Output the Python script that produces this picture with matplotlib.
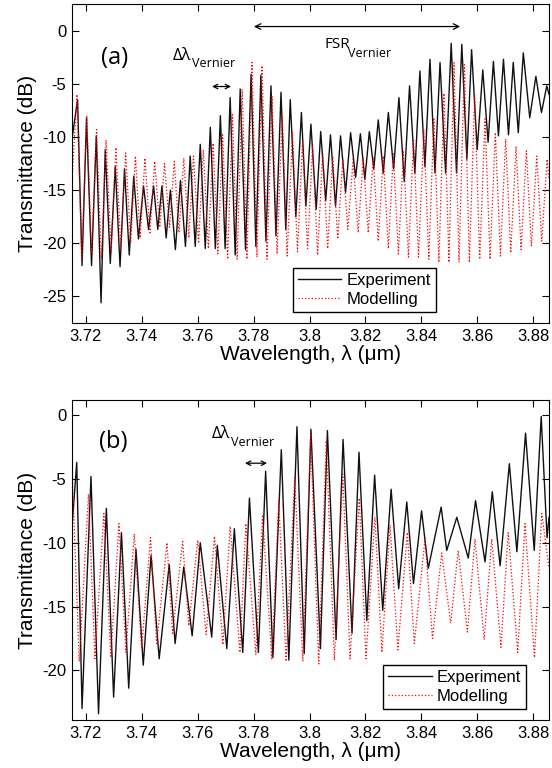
import matplotlib
matplotlib.use("Agg")
import matplotlib.pyplot as plt
from matplotlib.ticker import FormatStrFormatter

plt.rcParams['font.family'] = ['Liberation Sans', 'DejaVu Sans']
plt.rcParams['axes.unicode_minus'] = False

# ---- panel (a): experiment, alternating peak / trough points
wl_exp_a = [3.7150, 3.7170, 3.7186, 3.7202, 3.7220, 3.7237, 3.7254, 3.7269, 3.7287, 3.7305,
            3.7322, 3.7338, 3.7355, 3.7371, 3.7388, 3.7406, 3.7424, 3.7442, 3.7457, 3.7472,
            3.7487, 3.7502, 3.7520, 3.7538, 3.7556, 3.7573, 3.7591, 3.7609, 3.7627, 3.7645,
            3.7663, 3.7681, 3.7698, 3.7716, 3.7734, 3.7752, 3.7771, 3.7791, 3.7808, 3.7826,
            3.7844, 3.7862, 3.7880, 3.7898, 3.7915, 3.7931, 3.7951, 3.7971, 3.7987, 3.8005,
            3.8024, 3.8040, 3.8058, 3.8075, 3.8093, 3.8111, 3.8129, 3.8147, 3.8165, 3.8182,
            3.8198, 3.8214, 3.8230, 3.8246, 3.8264, 3.8282, 3.8301, 3.8320, 3.8339, 3.8358,
            3.8377, 3.8395, 3.8413, 3.8431, 3.8449, 3.8467, 3.8487, 3.8507, 3.8526, 3.8545,
            3.8563, 3.8580, 3.8600, 3.8620, 3.8639, 3.8658, 3.8676, 3.8694, 3.8712, 3.8729,
            3.8747, 3.8765, 3.8788, 3.8810, 3.8830, 3.8849, 3.8857]
T_exp_a = [-10.2, -6.5, -22.1, -8.2, -22.1, -9.9, -25.6, -11.2, -21.9, -12.8,
           -22.2, -13.0, -21.1, -13.7, -19.6, -14.6, -18.7, -14.6, -18.7, -14.6,
           -19.5, -15.0, -20.6, -14.1, -20.3, -11.8, -20.3, -10.7, -20.5, -9.1,
           -20.5, -8.0, -20.5, -6.3, -21.1, -5.5, -20.6, -4.1, -20.3, -4.2,
           -19.8, -5.2, -19.3, -5.8, -18.7, -6.5, -17.5, -7.7, -16.5, -8.8,
           -16.8, -9.5, -16.0, -9.8, -16.5, -9.9, -15.2, -9.6, -13.8, -9.7,
           -14.0, -9.5, -13.0, -8.4, -13.4, -7.7, -13.0, -6.3, -14.2, -5.2,
           -13.4, -3.8, -12.8, -2.7, -13.4, -3.0, -13.4, -1.2, -13.4, -1.3,
           -12.1, -1.8, -11.2, -3.7, -10.5, -2.9, -9.9, -2.7, -9.8, -3.0,
           -9.6, -2.1, -8.2, -4.3, -7.7, -5.2, -6.0]

# ---- panel (a): modelling
wl_mod_a = [3.7150, 3.7168, 3.7185, 3.7203, 3.7220, 3.7238, 3.7255, 3.7272, 3.7290, 3.7307,
            3.7325, 3.7342, 3.7360, 3.7377, 3.7394, 3.7411, 3.7429, 3.7446, 3.7464, 3.7481,
            3.7499, 3.7516, 3.7533, 3.7550, 3.7568, 3.7585, 3.7603, 3.7620, 3.7638, 3.7655,
            3.7672, 3.7689, 3.7707, 3.7724, 3.7741, 3.7759, 3.7776, 3.7794, 3.7812, 3.7830,
            3.7848, 3.7866, 3.7884, 3.7902, 3.7920, 3.7939, 3.7957, 3.7975, 3.7993, 3.8011,
            3.8029, 3.8047, 3.8065, 3.8083, 3.8101, 3.8119, 3.8137, 3.8156, 3.8174, 3.8192,
            3.8210, 3.8228, 3.8246, 3.8264, 3.8282, 3.8300, 3.8318, 3.8336, 3.8354, 3.8372,
            3.8390, 3.8409, 3.8427, 3.8445, 3.8463, 3.8481, 3.8499, 3.8517, 3.8535, 3.8554,
            3.8572, 3.8591, 3.8609, 3.8628, 3.8646, 3.8665, 3.8683, 3.8702, 3.8720, 3.8739,
            3.8757, 3.8776, 3.8794, 3.8813, 3.8831, 3.8850, 3.8857]
T_mod_a = [-14.0, -6.0, -21.5, -8.0, -21.0, -9.3, -21.5, -10.3, -20.8, -11.0,
           -20.5, -11.5, -20.0, -11.8, -19.5, -12.0, -19.0, -12.3, -18.5, -12.5,
           -18.5, -12.3, -19.0, -12.0, -19.5, -11.8, -20.0, -11.2, -20.5, -10.6,
           -21.0, -9.8, -21.5, -7.9, -21.5, -5.5, -21.5, -3.0, -21.3, -3.3,
           -21.5, -6.2, -21.0, -8.0, -21.2, -9.6, -20.8, -10.4, -20.5, -10.9,
           -21.1, -11.5, -20.5, -11.8, -19.6, -12.1, -18.7, -12.1, -19.0, -12.0,
           -19.0, -11.9, -19.8, -11.8, -20.5, -11.6, -21.0, -11.4, -21.3, -10.2,
           -21.3, -9.3, -21.5, -8.2, -21.8, -5.9, -21.8, -3.0, -21.8, -3.2,
           -21.8, -6.1, -21.5, -8.3, -21.5, -9.6, -21.2, -10.2, -20.9, -10.9,
           -20.6, -11.3, -20.3, -11.8, -19.8, -12.1, -14.0]

# ---- panel (b): experiment
wl_exp_b = [3.7150, 3.7167, 3.7186, 3.7218, 3.7245, 3.7273, 3.7299, 3.7327, 3.7353, 3.7379,
            3.7405, 3.7433, 3.7462, 3.7498, 3.7519, 3.7550, 3.7580, 3.7609, 3.7650, 3.7670,
            3.7704, 3.7731, 3.7761, 3.7785, 3.7817, 3.7843, 3.7869, 3.7899, 3.7926, 3.7955,
            3.7981, 3.8005, 3.8039, 3.8064, 3.8095, 3.8120, 3.8152, 3.8177, 3.8205, 3.8233,
            3.8262, 3.8292, 3.8319, 3.8348, 3.8372, 3.8401, 3.8425, 3.8471, 3.8491, 3.8527,
            3.8568, 3.8594, 3.8628, 3.8654, 3.8682, 3.8715, 3.8742, 3.8773, 3.8804, 3.8829,
            3.8850, 3.8857]
T_exp_b = [-8.8, -3.7, -23.0, -4.8, -23.4, -7.3, -22.1, -9.2, -21.4, -10.5,
           -19.6, -11.0, -19.1, -11.7, -17.9, -11.9, -17.3, -10.0, -17.4, -10.2,
           -18.3, -8.9, -18.6, -6.5, -18.6, -4.4, -19.0, -2.7, -19.2, -0.9,
           -18.7, -1.1, -18.3, -1.2, -17.6, -1.9, -17.1, -2.9, -16.1, -4.7,
           -15.3, -5.8, -13.6, -6.8, -13.2, -7.5, -12.0, -7.2, -10.6, -8.0,
           -11.2, -6.7, -11.5, -6.0, -11.8, -3.8, -10.7, -1.4, -10.6, -0.1,
           -9.6, -8.0]

# ---- panel (b): modelling
wl_mod_b = [3.7150, 3.7176, 3.7209, 3.7232, 3.7264, 3.7289, 3.7318, 3.7343, 3.7373, 3.7399,
            3.7431, 3.7453, 3.7490, 3.7510, 3.7546, 3.7568, 3.7600, 3.7630, 3.7660, 3.7690,
            3.7716, 3.7751, 3.7772, 3.7808, 3.7832, 3.7865, 3.7890, 3.7916, 3.7947, 3.7976,
            3.8004, 3.8033, 3.8060, 3.8089, 3.8119, 3.8145, 3.8178, 3.8202, 3.8234, 3.8259,
            3.8288, 3.8316, 3.8350, 3.8375, 3.8413, 3.8440, 3.8473, 3.8505, 3.8532, 3.8565,
            3.8592, 3.8625, 3.8652, 3.8685, 3.8711, 3.8745, 3.8771, 3.8805, 3.8831, 3.8857]
T_mod_b = [-4.0, -19.3, -6.2, -19.1, -7.7, -19.0, -8.5, -18.6, -9.3, -18.3,
           -9.6, -17.9, -10.0, -17.1, -9.9, -16.5, -9.8, -17.2, -9.5, -18.0,
           -8.7, -18.6, -8.5, -18.8, -7.8, -19.1, -6.7, -19.3, -4.8, -19.3,
           -1.5, -19.5, -2.0, -19.2, -4.6, -19.1, -6.5, -19.1, -8.0, -18.6,
           -8.6, -18.4, -9.2, -17.9, -9.7, -17.5, -10.8, -16.3, -10.6, -17.0,
           -9.7, -17.6, -9.7, -18.2, -9.2, -18.6, -8.5, -19.0, -7.7, -12.0]

x_ticks = [3.72, 3.74, 3.76, 3.78, 3.80, 3.82, 3.84, 3.86, 3.88]

fig = plt.figure(figsize=(5.52, 7.68), dpi=100)
ax_a = fig.add_axes([0.1304, 0.5794, 0.8642, 0.4154])
ax_b = fig.add_axes([0.1304, 0.0625, 0.8642, 0.4167])

label_font = ['Open Sans', 'DejaVu Sans']


def style(ax, ylim, yticks):
    ax.set_xlim(3.715, 3.8857)
    ax.set_ylim(*ylim)
    ax.set_xticks(x_ticks)
    ax.set_yticks(yticks)
    ax.xaxis.set_major_formatter(FormatStrFormatter('%g'))
    ax.yaxis.set_major_formatter(FormatStrFormatter('%g'))
    ax.tick_params(direction='in', top=True, right=True, length=5, width=0.8,
                   labelsize=12, pad=4)
    for s in ax.spines.values():
        s.set_linewidth(0.8)
    ax.set_xlabel('Wavelength, λ (μm)', fontsize=15, labelpad=1)
    ax.set_ylabel('Transmittance (dB)', fontsize=15, labelpad=4)
    ax.legend(['Experiment', 'Modelling'], loc='lower left', fontsize=12,
              fancybox=False, framealpha=1, edgecolor='black',
              handlelength=2.6, borderpad=0.3, labelspacing=0.25,
              handletextpad=0.3, borderaxespad=0)


# panel (a)
ax_a.plot(wl_exp_a, T_exp_a, color='#111111', lw=1.0)
ax_a.plot(wl_mod_a, T_mod_a, color='red', lw=0.9, ls=':')
style(ax_a, (-27.5, 2.5), [-25, -20, -15, -10, -5, 0])
ax_a.get_legend().set_bbox_to_anchor((0.463, 0.034))
ax_a.text(3.7304, -2.54, '(a)', fontsize=17, family=label_font, ha='center', va='center')
ax_a.text(3.7512, -2.8, 'Δλ', fontsize=12, family=label_font)
ax_a.text(3.7580, -3.4, 'Vernier', fontsize=9, family=label_font)
ax_a.annotate('', xy=(3.7719, -5.26), xytext=(3.7651, -5.26),
              arrowprops=dict(arrowstyle='<->', lw=0.9, color='black',
                              shrinkA=0, shrinkB=0, mutation_scale=8))
ax_a.text(3.8052, -1.6, 'FSR', fontsize=11, family=label_font)
ax_a.text(3.8138, -2.44, 'Vernier', fontsize=9, family=label_font)
ax_a.annotate('', xy=(3.8539, 0.38), xytext=(3.7801, 0.38),
              arrowprops=dict(arrowstyle='<->', lw=0.9, color='black',
                              shrinkA=0, shrinkB=0, mutation_scale=10))

# panel (b)
ax_b.plot(wl_exp_b, T_exp_b, color='#111111', lw=1.0)
ax_b.plot(wl_mod_b, T_mod_b, color='red', lw=0.9, ls=':')
style(ax_b, (-23.9, 1.2), [-20, -15, -10, -5, 0])
ax_b.get_legend().set_bbox_to_anchor((0.653, 0.034))
ax_b.text(3.7297, -2.1, '(b)', fontsize=17, family=label_font, ha='center', va='center')
ax_b.text(3.7651, -1.8, 'Δλ', fontsize=12, family=label_font)
ax_b.text(3.7720, -2.43, 'Vernier', fontsize=9, family=label_font)
ax_b.annotate('', xy=(3.7848, -3.76), xytext=(3.7769, -3.76),
              arrowprops=dict(arrowstyle='<->', lw=0.9, color='black',
                              shrinkA=0, shrinkB=0, mutation_scale=8))

fig.savefig('out.png', dpi=100)
